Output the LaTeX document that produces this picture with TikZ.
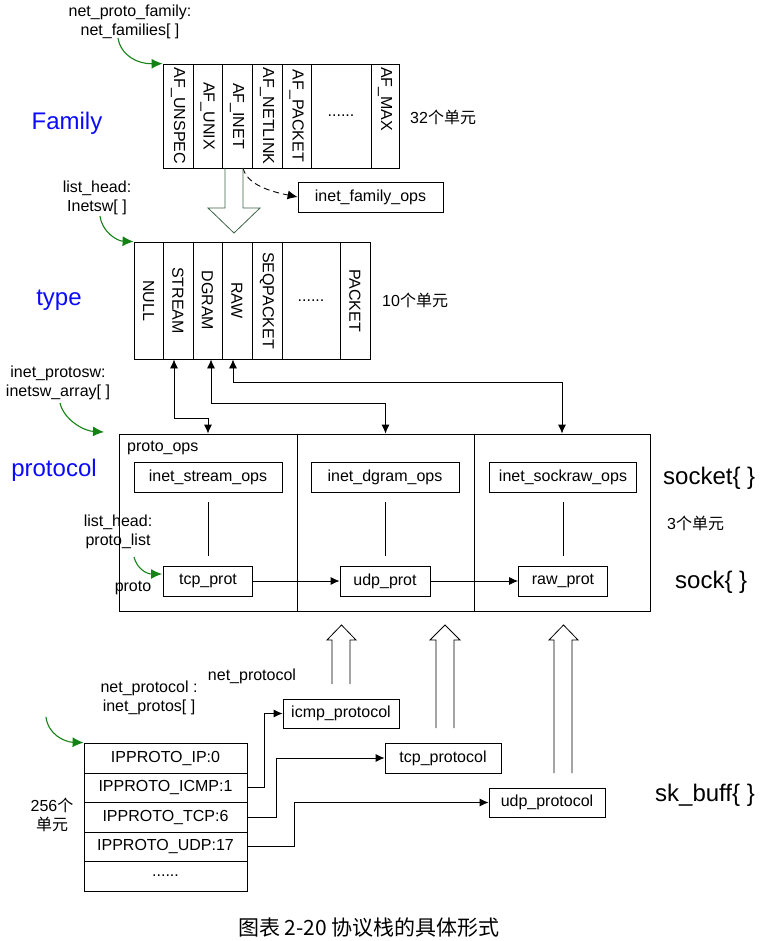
\documentclass[tikz,border=0pt]{standalone}
\usepackage{fontspec}
\setmainfont{Liberation Sans}
\newfontfamily\cjk{Noto Sans CJK SC}
\usetikzlibrary{arrows.meta}
\newcommand{\fsa}{\fontsize{16}{19}\selectfont}
\newcommand{\fsb}{\fontsize{24}{28}\selectfont}
\newcommand{\fsc}{\fontsize{21}{25}\selectfont}
\definecolor{garrow}{RGB}{20,130,20}
\definecolor{hgreen}{RGB}{60,100,70}
\definecolor{lblue}{RGB}{10,10,255}
\tikzset{
  cell/.style={draw, line width=0.8pt, inner sep=0pt},
  box/.style={draw, line width=0.8pt, inner sep=0pt, font=\fsa},
  txt/.style={font=\fsa, align=center, inner sep=0pt},
  rtxt/.style={font=\fsa, rotate=-90, inner sep=0pt},
  big/.style={font=\fsb, inner sep=0pt},
  blue lbl/.style={font=\fsb, text=lblue, inner sep=0pt},
  grn/.style={draw=garrow, line width=1.1pt, -{Latex[length=11pt,width=10pt]}},
  arr/.style={line width=0.8pt, -{Latex[length=9pt,width=8pt]}},
  hollow/.style={line width=0.8pt, line join=miter},
}
\begin{document}
\begin{tikzpicture}[x=1pt,y=-1pt]
\useasboundingbox (0,0) rectangle (763,941);

% ---------- Family ----------
\node[txt] (npf) at (130,22) {net\_proto\_family:\\net\_families[ ]};
\node[blue lbl] (family) at (67,123) {Family};
\node[cell, minimum width=30, minimum height=104] (f1) at (178,116) {};
\node[cell, minimum width=29, minimum height=104] (f2) at (207.5,116) {};
\node[cell, minimum width=30, minimum height=104] (f3) at (237,116) {};
\node[cell, minimum width=30, minimum height=104] (f4) at (267,116) {};
\node[cell, minimum width=29, minimum height=104] (f5) at (296.5,116) {};
\node[cell, minimum width=60, minimum height=104] (f6) at (341,116) {};
\node[cell, minimum width=28, minimum height=104] (f7) at (385,116) {};
\node[rtxt] (f1t) at (f1) {AF\_UNSPEC};
\node[rtxt] (f2t) at (f2) {AF\_UNIX};
\node[rtxt] (f3t) at (f3) {AF\_INET};
\node[rtxt] (f4t) at (f4) {AF\_NETLINK};
\node[rtxt] (f5t) at (f5) {AF\_PACKET};
\node[txt] (f6t) at (f6) {......};
\node[rtxt, anchor=west] (f7t) at (385,67) {AF\_MAX};
\node[txt, anchor=west] (n32) at (410,117) {32{\cjk 个单元}};
\draw[grn] (118,38) .. controls (121,56) and (138,64) .. (f1.north west);

\node[box, minimum width=145, minimum height=30] (ifo) at (370.5,197) {inet\_family\_ops};
\draw[line width=0.9pt, dash pattern=on 6pt off 4pt, -{Latex[length=10pt,width=9pt]}]
  (243,168) .. controls (247,184) and (268,191) .. (ifo.west);

% hollow down arrow
\draw[hollow, draw=hgreen] (225,168) -- (225,208) -- (208,208) -- (234,233) -- (260,208) -- (243,208) -- (243,168);

% ---------- type ----------
\node[txt] (lh1) at (97,198) {list\_head:\\Inetsw[ ]};
\node[blue lbl] (type) at (59,300) {type};
\node[cell, minimum width=29, minimum height=117] (t1) at (148.5,300.5) {};
\node[cell, minimum width=30, minimum height=117] (t2) at (178,300.5) {};
\node[cell, minimum width=29, minimum height=117] (t3) at (207.5,300.5) {};
\node[cell, minimum width=30, minimum height=117] (t4) at (237,300.5) {};
\node[cell, minimum width=30, minimum height=117] (t5) at (267,300.5) {};
\node[cell, minimum width=58, minimum height=117] (t6) at (311,300.5) {};
\node[cell, minimum width=30, minimum height=117] (t7) at (355,300.5) {};
\node[rtxt] (t1t) at (t1) {NULL};
\node[rtxt] (t2t) at (t2) {STREAM};
\node[rtxt] (t3t) at (t3) {DGRAM};
\node[rtxt] (t4t) at (t4) {RAW};
\node[rtxt] (t5t) at (t5) {SEQPACKET};
\node[txt] (t6t) at (t6) {......};
\node[rtxt] (t7t) at (t7) {PACKET};
\node[txt, anchor=west] (n10) at (382,300) {10{\cjk 个单元}};
\draw[grn] (100,216) .. controls (102,232) and (117,241) .. (t1.north west);

% ---------- protocol ----------
\node[txt] (ipsw) at (58,383) {inet\_protosw:\\inetsw\_array[ ]};
\node[blue lbl] (protocol) at (54,470) {protocol};
\node[cell, minimum width=178, minimum height=177] (s1) at (208,522.5) {};
\node[cell, minimum width=177, minimum height=177] (s2) at (385.5,522.5) {};
\node[cell, minimum width=176, minimum height=177] (s3) at (562,522.5) {};
\draw[grn] (60,403) .. controls (64,420) and (84,431) .. (104,432);

\draw[arr, {Latex[length=9pt,width=8pt]}-{Latex[length=9pt,width=8pt]}] ([xshift=-4pt]t2.south) -- ++(0,59) -| (s1.north);
\draw[arr, {Latex[length=9pt,width=8pt]}-{Latex[length=9pt,width=8pt]}] ([xshift=3.5pt]t3.south) -- ++(0,44) -| (s2.north);
\draw[arr, {Latex[length=9pt,width=8pt]}-{Latex[length=9pt,width=8pt]}] ([xshift=-4pt]t4.south) -- ++(0,23) -| (s3.north);

\node[txt, anchor=west] (pops) at (127,448) {proto\_ops};
\node[box, minimum width=148, minimum height=30] (o1) at (208,477) {inet\_stream\_ops};
\node[box, minimum width=148, minimum height=30] (o2) at (385,477) {inet\_dgram\_ops};
\node[box, minimum width=147, minimum height=30] (o3) at (563,477) {inet\_sockraw\_ops};

\node[box, minimum width=89, minimum height=30] (p1) at (208,581) {tcp\_prot};
\node[box, minimum width=90, minimum height=30] (p2) at (385,581) {udp\_prot};
\node[box, minimum width=89, minimum height=30] (p3) at (563,581) {raw\_prot};

\draw[line width=0.8pt] ([yshift=-10pt]o1.south) -- ([yshift=10pt]p1.north);
\draw[line width=0.8pt] ([yshift=-10pt]o2.south) -- ([yshift=10pt]p2.north);
\draw[line width=0.8pt] ([yshift=-10pt]o3.south) -- ([yshift=10pt]p3.north);
\draw[arr] (p1) -- (p2);
\draw[arr] (p2) -- (p3);

\node[txt] (plh) at (118,532) {list\_head:\\proto\_list};
\node[txt] (proto) at (133,588) {proto};
\draw[grn] (134,557) .. controls (137,569) and (147,574) .. (162,574);

\node[big, anchor=west] (socket) at (663,478) {socket\{ \}};
\node[txt, anchor=west] (n3) at (667,523) {3{\cjk 个单元}};
\node[big, anchor=west] (sock) at (675,582) {sock\{ \}};

% ---------- net_protocol ----------
\draw[hollow] (332,684) -- (332,640) -- (327,640) -- (341.5,625) -- (356,640) -- (350,640) -- (350,684);
\draw[hollow] (436,728) -- (436,640) -- (430,640) -- (445,625) -- (460,640) -- (454,640) -- (454,728);
\draw[hollow] (554,773) -- (554,640) -- (549,640) -- (563.5,625) -- (578,640) -- (572,640) -- (572,773);

\node[txt] (np) at (252,676) {net\_protocol};
\node[txt] (npi) at (149,698) {net\_protocol :\\inet\_protos[ ]};
\node[box, minimum width=116, minimum height=29] (icmp) at (341,713.5) {icmp\_protocol};
\node[box, minimum width=116, minimum height=30] (tcpp) at (443,758) {tcp\_protocol};
\node[box, minimum width=116, minimum height=29] (udpp) at (547,802.5) {udp\_protocol};
\node[big, anchor=west] (skb) at (655,795) {sk\_buff\{ \}};

\node[box, minimum width=163, minimum height=30] (r0) at (165.5,758) {IPPROTO\_IP:0};
\node[box, minimum width=163, minimum height=29] (r1) at (165.5,787.5) {IPPROTO\_ICMP:1};
\node[box, minimum width=163, minimum height=30] (r2) at (165.5,817) {IPPROTO\_TCP:6};
\node[box, minimum width=163, minimum height=29] (r3) at (165.5,846.5) {IPPROTO\_UDP:17};
\node[box, minimum width=163, minimum height=30] (r4) at (165.5,876) {......};
\node[txt] (n256) at (52,815) {256{\cjk 个}\\{\cjk 单元}};
\draw[grn] (46,717) .. controls (48,734) and (64,742) .. (r0.north west);

\draw[arr] (r1.east) -- ++(17,0) |- (icmp.west);
\draw[arr] (r2.east) -- ++(29,0) |- (tcpp.west);
\draw[arr] (r3.east) -- ++(47,0) |- (udpp.west);

\node[font=\fsc, inner sep=0pt] (cap) at (369,928) {\cjk 图表\ 2-20\ 协议栈的具体形式};
\end{tikzpicture}
\end{document}
